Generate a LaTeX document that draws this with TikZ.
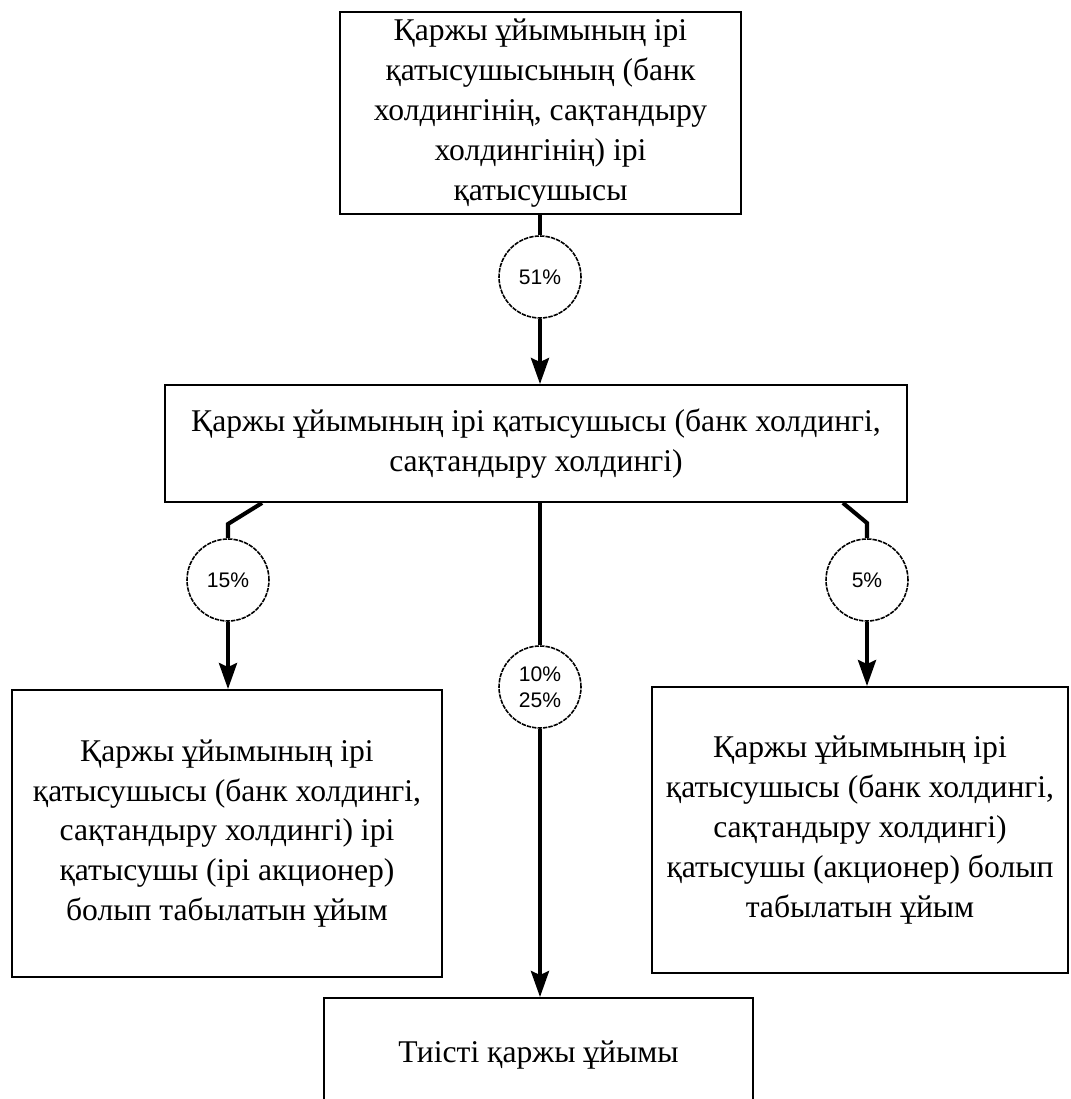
\documentclass[tikz,border=0pt]{standalone}
\usepackage{fontspec}
\setmainfont{Liberation Serif}
\newfontfamily\pctfont{Liberation Sans}
\usetikzlibrary{arrows.meta}
\tikzstyle{entity}=[draw, line width=1.1pt, inner sep=0, align=center, font=\fontsize{18}{22.7}\selectfont]
\tikzstyle{share}=[draw, circle, line width=0.9pt, dash pattern={on 2.5pt off 0.6pt}, minimum size=1.64cm, inner sep=0, align=center, font=\pctfont\fontsize{12}{14.8}\selectfont]
\tikzstyle{link}=[line width=2.3pt]
\tikzstyle{arrow}=[link, -{Stealth[length=0.52cm, width=0.36cm, inset=0.08cm]}]

\begin{document}
\begin{tikzpicture}[x=0.02cm, y=-0.02cm]
          \path[use as bounding box, fill=white] (0, 0) rectangle (1071, 1099);

          \node[entity, minimum width=8.02cm, minimum height=4.04cm] (holder) at (540.5, 113)
            {Қаржы ұйымының ірі\\қатысушысының (банк\\холдингінің, сақтандыру\\холдингінің) ірі\\қатысушысы};
          \node[share] (p51) at (540, 277) {51\%};
          \node[entity, minimum width=14.84cm, minimum height=2.34cm] (holding) at (536, 443.5)
            {Қаржы ұйымының ірі қатысушысы (банк холдингі,\\сақтандыру холдингі)};

          \node[share] (p15) at (228, 580) {15\%};
          \node[share] (p10) at (540, 687) {10\%\\25\%};
          \node[share] (p5) at (867, 580) {5\%};

          \node[entity, minimum width=8.6cm, minimum height=5.74cm] (major) at (227, 833.5)
            {Қаржы ұйымының ірі\\қатысушысы (банк холдингі,\\сақтандыру холдингі) ірі\\қатысушы (ірі акционер)\\болып табылатын ұйым};
          \node[entity, minimum width=8.32cm, minimum height=5.72cm] (minor) at (860, 830)
            {Қаржы ұйымының ірі\\қатысушысы (банк холдингі,\\сақтандыру холдингі)\\қатысушы (акционер) болып\\табылатын ұйым};
          \node[entity, minimum width=8.58cm, minimum height=2.28cm] (target) at (538.5, 1055)
            {Тиісті қаржы ұйымы};

          \coordinate (l_bend) at (228, 524);
          \coordinate (r_bend) at (867, 523);

          \draw[link] (holder.south -| p51) -- (p51.north);
          \draw[arrow] (p51.south) -- (holding.north -| p51);

          \draw[link] ([xshift=-5.48cm]holding.south) -- (l_bend) -- (p15.north);
          \draw[arrow] (p15.south) -- (major.north -| p15);

          \draw[link] (holding.south -| p10) -- (p10.north);
          \draw[arrow] (p10.south) -- (target.north -| p10);

          \draw[link] ([xshift=6.14cm]holding.south) -- (r_bend) -- (p5.north);
          \draw[arrow] (p5.south) -- (minor.north -| p5);
        \end{tikzpicture}
\end{document}
